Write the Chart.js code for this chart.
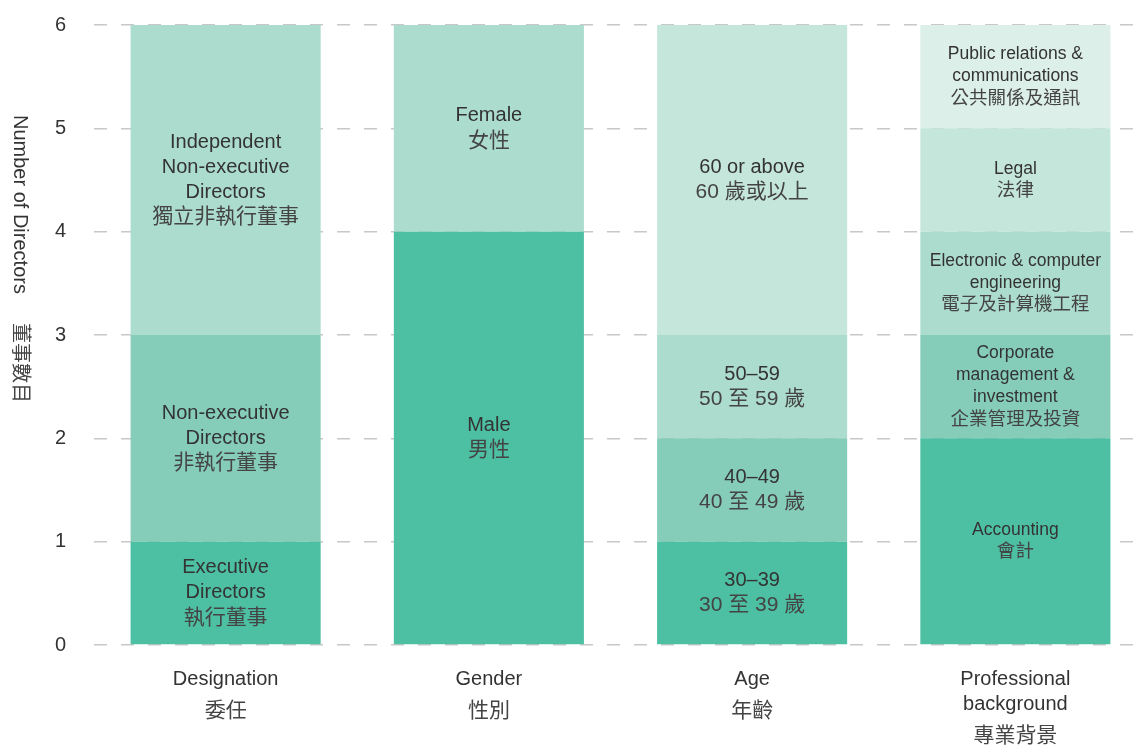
<!DOCTYPE html>
<html>
<head>
<meta charset="utf-8">
<script src="https://cdn.jsdelivr.net/npm/chart.js@4"></script>
<style>
  html, body { margin: 0; padding: 0; background: #fff; overflow: hidden; }
  canvas { display: block; }
</style>
</head>
<body>
<canvas id="directorsChart" width="1147" height="745"></canvas>
<script>
// categorias do eixo x (inglês + chinês)
const categories = [
    ['Designation', '委任'],
    ['Gender', '性別'],
    ['Age', '年齡'],
    ['Professional', 'background', '專業背景']
];

// valores de cada camada empilhada (de baixo para cima)
const tier1 = [1, 4, 1, 2];
const tier2 = [2, 0, 1, 1];
const tier3 = [3, 2, 1, 1];
const tier4 = [0, 0, 3, 1];
const tier5 = [0, 0, 0, 1];

// rótulos dentro das barras
const tier1Labels = [['Executive', 'Directors', '執行董事'], ['Male', '男性'], ['30–39', '30 至 39 歲'], ['Accounting', '會計']];
const tier2Labels = [['Non-executive', 'Directors', '非執行董事'], null, ['40–49', '40 至 49 歲'], ['Corporate', 'management &', 'investment', '企業管理及投資']];
const tier3Labels = [['Independent', 'Non-executive', 'Directors', '獨立非執行董事'], ['Female', '女性'], ['50–59', '50 至 59 歲'], ['Electronic & computer', 'engineering', '電子及計算機工程']];
const tier4Labels = [null, null, ['60 or above', '60 歲或以上'], ['Legal', '法律']];
const tier5Labels = [null, null, null, ['Public relations &', 'communications', '公共關係及通訊']];

const yTicks = [0, 1, 2, 3, 4, 5, 6];
const yTitle = ['Number of Directors', '董事數目'];

const colors = ['#4dbfa3', '#85cdb9', '#acdccd', '#c5e6da', '#dcefe8'];
const FONT = '"Liberation Sans", "Noto Sans CJK TC", sans-serif';
const isCJK = s => /[\u3400-\u9fff]/.test(s);

const tiers = [tier1, tier2, tier3, tier4, tier5];
const tierLabels = [tier1Labels, tier2Labels, tier3Labels, tier4Labels, tier5Labels];

// texto dentro dos segmentos
const segmentLabels = {
    id: 'segmentLabels',
    afterDatasetsDraw(chart) {
        const ctx = chart.ctx;
        ctx.save();
        ctx.textAlign = 'center';
        ctx.textBaseline = 'middle';
        chart.data.datasets.forEach((ds, di) => {
            const meta = chart.getDatasetMeta(di);
            meta.data.forEach((bar, i) => {
                const lines = ds.segLabels[i];
                if (!lines || !ds.data[i]) return;
                const small = i === 3;
                const size = small ? 17.5 : 20;
                const lh = small ? 22 : 25;
                const cy = (bar.y + bar.base) / 2;
                const y0 = cy - (lines.length - 1) * lh / 2;
                lines.forEach((t, k) => {
                    const cjk = isCJK(t);
                    ctx.font = (cjk ? size + 1 : size) + 'px ' + FONT;
                    ctx.fillStyle = cjk ? '#444' : '#333';
                    ctx.fillText(t, bar.x, y0 + k * lh);
                });
            });
        });
        ctx.restore();
    }
};

// rótulos do eixo x e título do eixo y
const axisText = {
    id: 'axisText',
    afterDraw(chart) {
        const ctx = chart.ctx;
        const xs = chart.scales.x;
        const area = chart.chartArea;
        ctx.save();
        ctx.textAlign = 'center';
        ctx.textBaseline = 'middle';
        categories.forEach((lines, i) => {
            const x = xs.getPixelForValue(i);
            let y = area.bottom + 34;
            lines.forEach((t, k) => {
                const cjk = isCJK(t);
                if (k > 0) y += cjk ? 32 : 25;
                ctx.font = (cjk ? 21 : 20) + 'px ' + FONT;
                ctx.fillStyle = cjk ? '#444' : '#333';
                ctx.fillText(t, x, y);
            });
        });
        // título vertical
        ctx.translate(20, 115);
        ctx.rotate(Math.PI / 2);
        ctx.textAlign = 'left';
        ctx.fillStyle = '#333';
        ctx.font = '20px ' + FONT;
        ctx.fillText(yTitle[0], 0, 0);
        ctx.fillStyle = '#444';
        ctx.fillText(yTitle[1], 208, 0);
        ctx.restore();
    }
};

const data = {
    labels: categories.map(c => c.join(' ')),
    datasets: tiers.map((values, i) => ({
        label: 'tier' + (i + 1),
        data: values,
        segLabels: tierLabels[i],
        backgroundColor: colors[i],
        borderWidth: 0,
        categoryPercentage: 1,
        barPercentage: 0.722
    }))
};

const config = {
    type: 'bar',
    data: data,
    options: {
        responsive: false,
        animation: false,
        layout: { padding: { top: 25, bottom: 100, left: 0, right: 0 } },
        plugins: {
            legend: { display: false },
            tooltip: { enabled: false }
        },
        scales: {
            x: {
                stacked: true,
                display: false
            },
            y: {
                stacked: true,
                min: yTicks[0],
                max: yTicks[yTicks.length - 1],
                afterFit: scale => {
                    scale.width = 94;
                    scale.paddingTop = 0;
                    scale.paddingBottom = 0;
                },
                afterBuildTicks: scale => { scale.ticks = yTicks.map(v => ({ value: v })); },
                border: { display: false, dash: [13, 14] },
                grid: {
                    color: '#c8c8c8',
                    lineWidth: 1.5,
                    drawTicks: false
                },
                ticks: {
                    padding: 28,
                    color: '#333',
                    font: { family: FONT, size: 20 }
                }
            }
        }
    },
    plugins: [segmentLabels, axisText]
};

new Chart(document.getElementById('directorsChart').getContext('2d'), config);
</script>
</body>
</html>
